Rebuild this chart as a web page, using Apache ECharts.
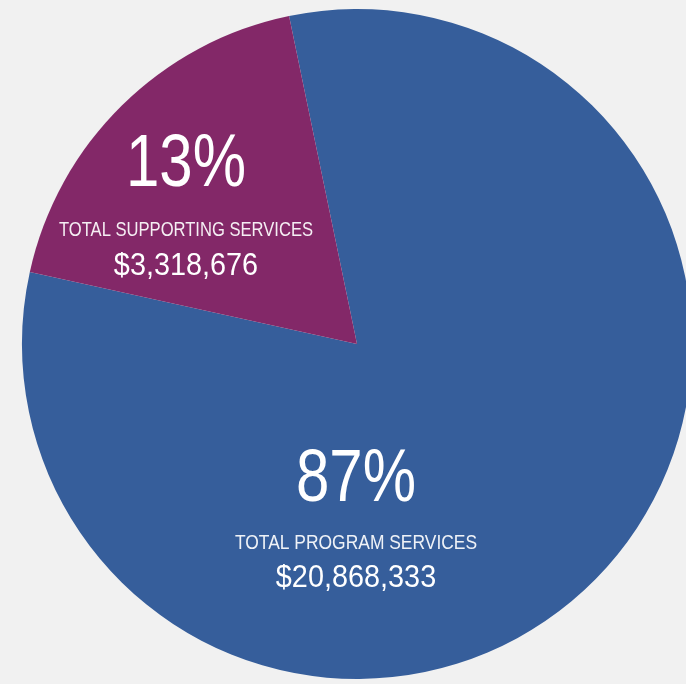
<!DOCTYPE html>
<html>
<head>
<meta charset="utf-8">
<script src="https://cdn.jsdelivr.net/npm/echarts@6/dist/echarts.min.js"></script>
<style>
  html, body { margin: 0; padding: 0; background: #f1f1f1; }
  #chart { width: 686px; height: 684px; }
</style>
</head>
<body>
<div id="chart"></div>
<script>
// Categories and values (slice shares as drawn in the reference picture)
var categories = ['TOTAL PROGRAM SERVICES', 'TOTAL SUPPORTING SERVICES'];
var sliceShares = [81.7, 18.3];
var percentLabels = ['87%', '13%'];
var amountLabels = ['$20,868,333', '$3,318,676'];
var sliceColors = ['#365e9b', '#832868'];

var chart = echarts.init(document.getElementById('chart'), null, { renderer: 'canvas' });

var pieData = categories.map(function (c, i) {
  return { name: c, value: sliceShares[i], itemStyle: { color: sliceColors[i] } };
});

// label block placements
var blocks = [
  { x: 356, yPct: 480, yName: 543, yAmt: 578, nameScale: 0.83 },
  { x: 186, yPct: 165, yName: 230, yAmt: 266, nameScale: 0.79 }
];

var FONT = '"Liberation Sans", Arial, sans-serif';
var graphics = [];
categories.forEach(function (c, i) {
  var b = blocks[i];
  graphics.push({
    type: 'text', x: b.x, y: b.yPct, scaleX: 0.8, z: 10,
    style: { text: percentLabels[i], fill: '#ffffff',
      font: '75px ' + FONT, textAlign: 'center', textVerticalAlign: 'middle' }
  });
  graphics.push({
    type: 'text', x: b.x, y: b.yName, scaleX: b.nameScale, z: 10,
    style: { text: c, fill: '#ffffff', opacity: 0.92,
      font: '21px ' + FONT, textAlign: 'center', textVerticalAlign: 'middle' }
  });
  graphics.push({
    type: 'text', x: b.x, y: b.yAmt, scaleX: 0.93, z: 10,
    style: { text: amountLabels[i], fill: '#ffffff',
      font: '31px ' + FONT, textAlign: 'center', textVerticalAlign: 'middle' }
  });
});

chart.setOption({
  backgroundColor: '#f1f1f1',
  animation: false,
  series: [{
    type: 'pie',
    center: [357, 344],
    radius: [0, 335],
    startAngle: 101.7,
    clockwise: true,
    avoidLabelOverlap: false,
    label: { show: false },
    labelLine: { show: false },
    emphasis: { disabled: true },
    itemStyle: { borderWidth: 0 },
    data: pieData
  }],
  graphic: graphics
});
</script>
</body>
</html>
